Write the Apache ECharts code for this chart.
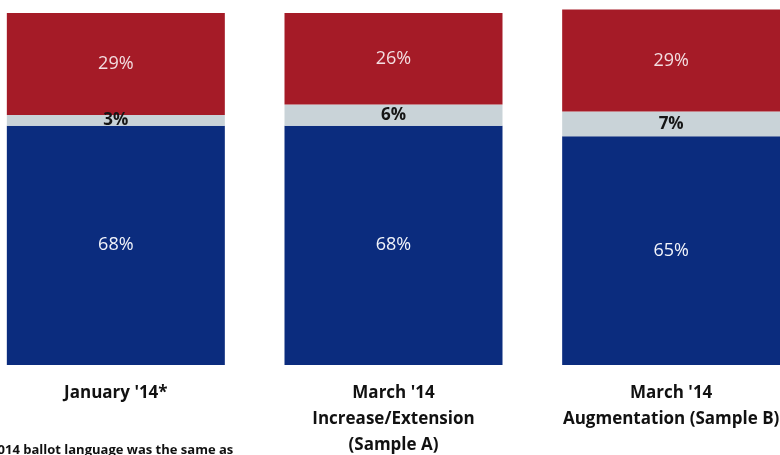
<!DOCTYPE html>
<html>
<head>
<meta charset="utf-8">
<style>
  html, body { margin: 0; padding: 0; background: #fff; overflow: hidden; width: 780px; height: 455px; }
  #chart { width: 833px; height: 455px; margin-left: -23px; }
</style>
<script src="https://cdn.jsdelivr.net/npm/echarts@6/dist/echarts.min.js"></script>
</head>
<body>
<div id="chart"></div>
<script>
// Survey waves along the x axis
const categories = ["January '14*", "March '14\nIncrease/Extension\n(Sample A)", "March '14\nAugmentation (Sample B)"];
// Stacked shares, bottom to top
const blueValues = [68, 68, 65];
const grayValues = [3, 6, 7];
const redValues = [29, 26, 29];
const footnote = "*2014 ballot language was the same as";

const chart = echarts.init(document.getElementById('chart'));

function seg(name, data, color, label) {
  return {
    name: name,
    type: 'bar',
    stack: 'total',
    data: data,
    barWidth: 218,
    clip: false,
    itemStyle: { color: color },
    label: Object.assign({
      show: true,
      position: 'inside',
      formatter: '{c}%'
    }, label)
  };
}

chart.setOption({
  animation: false,
  grid: { left: 0, right: 0, top: 13, height: 352, containLabel: false, outerBoundsMode: 'none' },
  xAxis: {
    type: 'category',
    data: categories,
    axisLine: { show: false },
    axisTick: { show: false },
    axisLabel: {
      margin: 15,
      interval: 0,
      color: '#111',
      fontFamily: 'Open Sans',
      fontWeight: 'bold',
      fontSize: 17,
      lineHeight: 26
    }
  },
  yAxis: {
    type: 'value',
    min: 0,
    max: 100,
    show: false
  },
  series: [
    seg('blue', blueValues, '#0b2c7e', { color: '#f2f4fa', fontFamily: 'Open Sans', fontSize: 18 }),
    seg('gray', grayValues, '#c9d3d8', { color: '#151515', fontFamily: 'Open Sans', fontWeight: 'bold', fontSize: 17 }),
    seg('red', redValues, '#a51b27', { color: '#f3dde0', fontFamily: 'Open Sans', fontSize: 18 })
  ],
  graphic: [{
    type: 'text',
    left: 6,
    top: 444,
    style: {
      text: footnote,
      fill: '#111',
      font: 'bold 13px "Open Sans"'
    }
  }]
});
</script>
</body>
</html>
